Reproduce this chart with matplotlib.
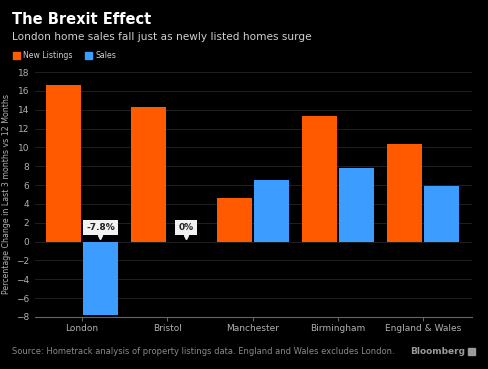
import matplotlib.pyplot as plt
import numpy as np

cities = ["London", "Bristol", "Manchester", "Birmingham", "England & Wales"]
new_listings = [16.6, 14.3, 4.6, 13.3, 10.4]
sales = [-7.8, 0.0, 6.5, 7.8, 5.9]
callouts = {0: "-7.8%", 1: "0%"}

orange = "#ff5a00"
blue = "#3d9cff"
grey = "#b0b0b0"

fig = plt.figure(figsize=(4.88, 3.69), dpi=100, facecolor="black")
ax = fig.add_axes([35 / 488, 1 - 317 / 369, 437 / 488, 245 / 369], facecolor="black")

x = np.arange(len(cities))
w = 0.41
ax.bar(x - w / 2 - 0.012, new_listings, w, color=orange, zorder=3)
ax.bar(x + w / 2 + 0.012, sales, w, color=blue, zorder=3)

# value callouts with a small pointer under the box
for i, txt in callouts.items():
    xc = x[i] + w / 2 + 0.012
    ax.annotate(txt, (xc, 0.15), xytext=(0, 6), textcoords="offset points",
                ha="center", va="bottom", fontsize=6.5, color="#222222", fontweight="bold",
                bbox=dict(boxstyle="square,pad=0.35", fc="#f2f2f2", ec="none"), zorder=5)
    ax.plot(xc, 0.5, marker="v", markersize=3, color="#f2f2f2", zorder=5)

ax.set_xlim(-0.55, 4.57)
ax.set_ylim(-8, 18)
ax.set_yticks(range(-8, 19, 2))
ax.set_xticks(x)
ax.set_xticklabels(cities)
ax.grid(axis="y", color="#262626", linewidth=0.6, zorder=0)
for s in ["top", "right", "left"]:
    ax.spines[s].set_visible(False)
ax.spines["bottom"].set_color("#666666")
ax.tick_params(axis="y", length=0, colors=grey, labelsize=6.5, pad=4)
ax.tick_params(axis="x", length=3, color="#666666", colors=grey, labelsize=6.5, pad=2)
ax.set_ylabel("Percentage Change in Last 3 months vs 12 Months", color=grey, fontsize=5.7, labelpad=4)

fig.text(12 / 488, 1 - 20 / 369, "The Brexit Effect", color="white", fontsize=10.5,
         fontweight="bold", va="center")
fig.text(12 / 488, 1 - 37 / 369, "London home sales fall just as newly listed homes surge",
         color="#d0d0d0", fontsize=7.6, va="center")

fig.patches.append(plt.Rectangle((13 / 488, 1 - 59 / 369), 7 / 488, 7 / 369,
                                 color=orange, transform=fig.transFigure))
fig.text(23 / 488, 1 - 55 / 369, "New Listings", color="#d0d0d0", fontsize=5.6, va="center")
fig.patches.append(plt.Rectangle((85 / 488, 1 - 59 / 369), 7 / 488, 7 / 369,
                                 color=blue, transform=fig.transFigure))
fig.text(95 / 488, 1 - 55 / 369, "Sales", color="#d0d0d0", fontsize=5.6, va="center")

fig.text(12 / 488, 1 - 352 / 369,
         "Source: Hometrack analysis of property listings data. England and Wales excludes London.",
         color="#8a8a8a", fontsize=6.0, va="center")
fig.text(465 / 488, 1 - 351 / 369, "Bloomberg", color="#9a9a9a", fontsize=6.5,
         fontweight="bold", va="center", ha="right")
fig.patches.append(plt.Rectangle((468 / 488, 1 - 355 / 369), 7 / 488, 7 / 369,
                                 color="#9a9a9a", transform=fig.transFigure))

fig.savefig("out.png", dpi=100, facecolor="black")
